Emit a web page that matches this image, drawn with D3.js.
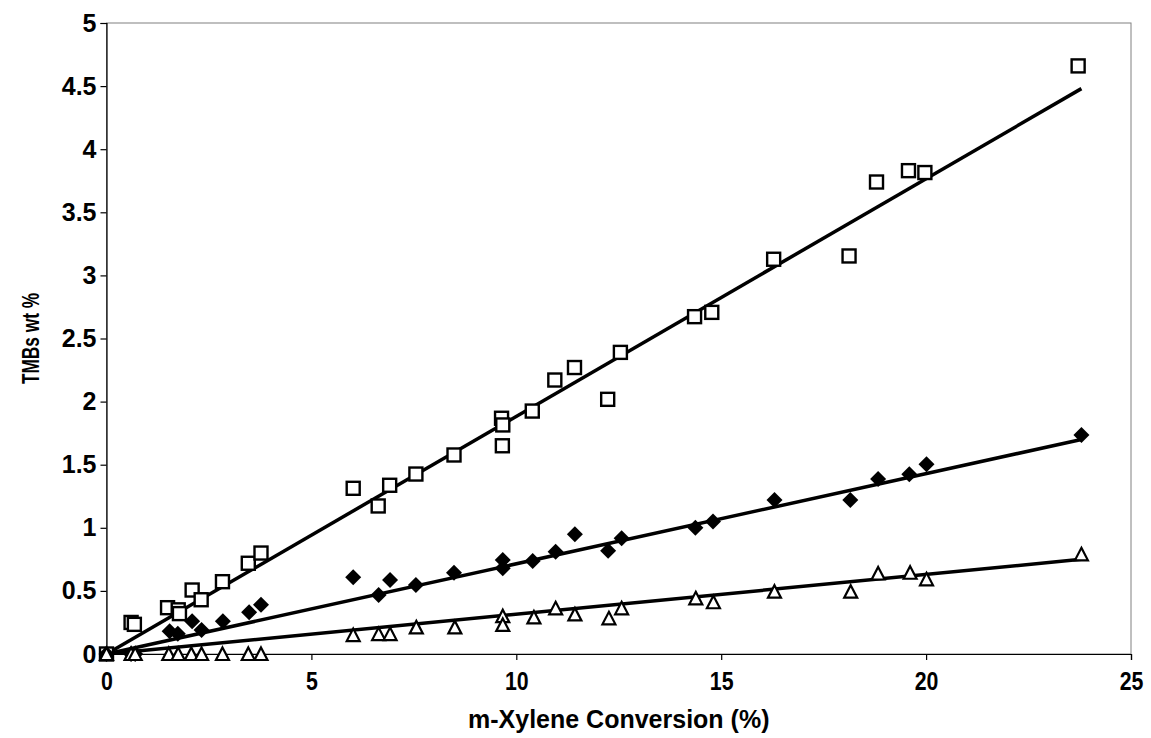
<!DOCTYPE html>
<html>
<head>
<meta charset="utf-8">
<script src="https://cdn.jsdelivr.net/npm/d3@7"></script>
<style>
  html, body { margin: 0; padding: 0; background: #fff; }
  svg { display: block; }
  text { font-family: "Liberation Sans", Arial, sans-serif; font-weight: bold; fill: #000; }
</style>
</head>
<body>
<svg id="chart" width="1151" height="738"></svg>
<script>
// TMB yield (wt %) against m-xylene conversion (%)
// Open squares
const squareX = [0, 0.60, 0.68, 1.49, 1.75, 1.78, 2.09, 2.31, 2.83, 3.46, 3.77, 6.02, 6.63, 6.91, 7.55, 8.48, 9.64, 9.67, 9.66, 10.39, 10.94, 11.42, 12.23, 12.54, 14.35, 14.77, 16.28, 18.12, 18.79, 19.57, 19.97, 23.71];
const squareY = [0, 0.25, 0.235, 0.367, 0.35, 0.32, 0.507, 0.43, 0.573, 0.719, 0.80, 1.313, 1.173, 1.337, 1.426, 1.577, 1.868, 1.815, 1.65, 1.925, 2.171, 2.27, 2.018, 2.39, 2.673, 2.707, 3.128, 3.154, 3.74, 3.83, 3.815, 4.66];

// Filled diamonds
const diamondX = [0, 0.6, 0.7, 1.54, 1.74, 2.09, 2.32, 2.84, 3.48, 3.77, 6.02, 6.64, 6.92, 7.55, 8.48, 9.67, 9.67, 10.4, 10.96, 11.43, 12.24, 12.57, 14.37, 14.8, 16.3, 18.15, 18.83, 19.59, 20.01, 23.79];
const diamondY = [0, 0, 0, 0.18, 0.16, 0.26, 0.19, 0.26, 0.33, 0.39, 0.608, 0.468, 0.586, 0.547, 0.644, 0.745, 0.68, 0.737, 0.81, 0.948, 0.819, 0.917, 1.0, 1.05, 1.22, 1.22, 1.387, 1.424, 1.503, 1.735];

// Open triangles
const triangleX = [0, 0.6, 0.7, 1.52, 1.75, 2.07, 2.32, 2.83, 3.46, 3.77, 6.02, 6.64, 6.92, 7.56, 8.5, 9.67, 9.67, 10.43, 10.96, 11.43, 12.26, 12.57, 14.38, 14.81, 16.3, 18.16, 18.83, 19.61, 20.01, 23.79];
const triangleY = [0, 0, 0, 0, 0, 0, 0, 0, 0, 0, 0.15, 0.158, 0.158, 0.211, 0.211, 0.30, 0.23, 0.29, 0.362, 0.314, 0.283, 0.362, 0.441, 0.41, 0.494, 0.494, 0.638, 0.644, 0.592, 0.79];

// Linear trend lines: start and end points (x, y)
const trendX = [0, 23.79];
const squareTrend = [0, 4.48];
const diamondTrend = [0, 1.70];
const triangleTrend = [0, 0.75];

// Axis ticks
const xTicks = [0, 5, 10, 15, 20, 25];
const yTicks = [0, 0.5, 1, 1.5, 2, 2.5, 3, 3.5, 4, 4.5, 5];
const xTitle = "m-Xylene Conversion (%)";
const yTitle = "TMBs wt %";

const svg = d3.select("#chart");
const plotLeft = 106.5, plotRight = 1131, plotTop = 23, plotBottom = 654;

const x = d3.scaleLinear().domain([0, 25]).range([plotLeft, plotRight]);
const y = d3.scaleLinear().domain([0, 5]).range([plotBottom, plotTop]);

// Plot area border
svg.append("rect")
  .attr("x", plotLeft).attr("y", plotTop)
  .attr("width", plotRight - plotLeft).attr("height", plotBottom - plotTop)
  .attr("fill", "none").attr("stroke", "#808080").attr("stroke-width", 1);

// Axes
const xAxis = svg.append("g")
  .attr("transform", `translate(0,${plotBottom})`)
  .call(d3.axisBottom(x).tickValues(xTicks).tickSize(6).tickPadding(12).tickFormat(d3.format("d")));
const yAxis = svg.append("g")
  .attr("transform", `translate(${plotLeft},0)`)
  .call(d3.axisLeft(y).tickValues(yTicks).tickSize(6).tickPadding(4).tickFormat(d => String(d)));

[xAxis, yAxis].forEach(g => {
  g.select(".domain").attr("stroke", "#000").attr("stroke-width", 1.2);
  g.selectAll(".tick line").attr("stroke", "#000").attr("stroke-width", 1.2);
  g.selectAll(".tick text")
    .style("font-family", '"Liberation Sans", Arial, sans-serif')
    .style("font-weight", "bold")
    .attr("fill", "#000");
});
xAxis.selectAll(".tick text")
  .style("font-size", "26px")
  .attr("transform", "scale(0.82,1)");
yAxis.selectAll(".tick text").style("font-size", "25px");

// Axis titles
svg.append("text")
  .attr("x", (plotLeft + plotRight) / 2).attr("y", 728)
  .attr("text-anchor", "middle")
  .style("font-size", "25px")
  .text(xTitle);
svg.append("text")
  .attr("transform", `translate(39,${(plotTop + plotBottom) / 2}) rotate(-90) scale(0.72,1)`)
  .attr("text-anchor", "middle")
  .style("font-size", "24px")
  .text(yTitle);

// Trend lines
const line = d3.line().x(d => x(d[0])).y(d => y(d[1]));
[squareTrend, diamondTrend, triangleTrend].forEach(t => {
  svg.append("path")
    .datum(trendX.map((xv, i) => [xv, t[i]]))
    .attr("d", line)
    .attr("fill", "none").attr("stroke", "#000").attr("stroke-width", 3.5);
});

// Markers
const sq = svg.append("g");
sq.selectAll("rect").data(d3.zip(squareX, squareY)).join("rect")
  .attr("x", d => x(d[0]) - 6.5).attr("y", d => y(d[1]) - 6.5)
  .attr("width", 13).attr("height", 13)
  .attr("fill", "#fff").attr("stroke", "#000").attr("stroke-width", 2.4);

const dia = svg.append("g");
dia.selectAll("path").data(d3.zip(diamondX, diamondY)).join("path")
  .attr("transform", d => `translate(${x(d[0])},${y(d[1])})`)
  .attr("d", "M0,-8L8,0L0,8L-8,0Z")
  .attr("fill", "#000");

const tri = svg.append("g");
tri.selectAll("path").data(d3.zip(triangleX, triangleY)).join("path")
  .attr("transform", d => `translate(${x(d[0])},${y(d[1])})`)
  .attr("d", "M0,-6.5L6.5,6L-6.5,6Z")
  .attr("fill", "#fff").attr("stroke", "#000").attr("stroke-width", 2.2);
</script>
</body>
</html>
